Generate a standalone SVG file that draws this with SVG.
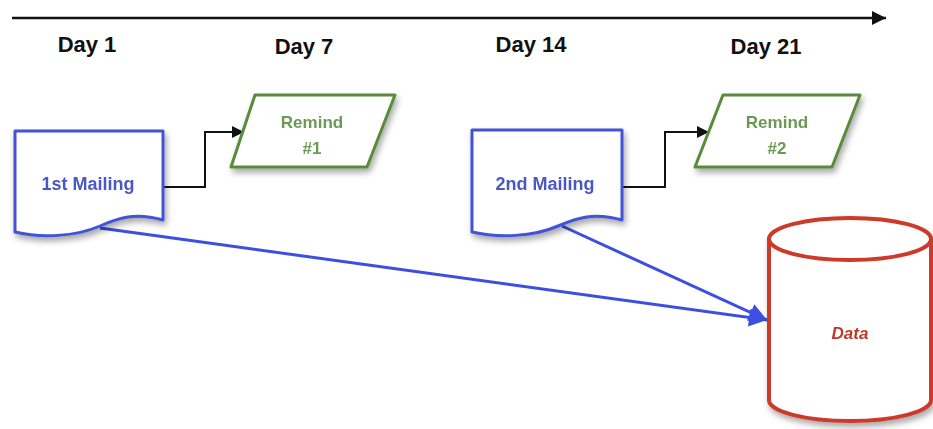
<svg xmlns="http://www.w3.org/2000/svg" width="933" height="429" viewBox="0 0 933 429">
<defs>
<style>
.day{font-family:"Liberation Sans",Arial,sans-serif;font-weight:bold;font-size:22px;fill:#111;text-anchor:middle}
.doc{fill:#fff;stroke:#4352d6;stroke-width:3;stroke-linejoin:round}
.doct{font-family:"Liberation Sans",Arial,sans-serif;font-weight:bold;font-size:18px;fill:#4a58c8;text-anchor:middle}
.rem{fill:#fff;stroke:#5a8a3a;stroke-width:3;stroke-linejoin:round}
.remt{font-family:"Liberation Sans",Arial,sans-serif;font-weight:bold;font-size:17px;fill:#6a9a52;text-anchor:middle}
.blk{fill:none;stroke:#111;stroke-width:2}
.blu{fill:none;stroke:#3c4fe0;stroke-width:3}
.cyl{fill:#fff;stroke:#cc3a2c;stroke-width:4}
.cylt{font-family:"Liberation Sans",Arial,sans-serif;font-weight:bold;font-style:italic;font-size:17px;fill:#c0392b;text-anchor:middle}
</style>
<marker id="ab" viewBox="0 0 10 10" refX="10" refY="5" markerWidth="16" markerHeight="14" markerUnits="userSpaceOnUse" orient="auto"><path d="M0,0 L10,5 L0,10 z" fill="#111"/></marker>
<marker id="ak" viewBox="0 0 10 10" refX="10" refY="5" markerWidth="14" markerHeight="12" markerUnits="userSpaceOnUse" orient="auto"><path d="M0,0 L10,5 L0,10 z" fill="#111"/></marker>
<marker id="au" viewBox="0 0 10 10" refX="10" refY="5" markerWidth="24" markerHeight="18" markerUnits="userSpaceOnUse" orient="auto"><path d="M0,0 L10,5 L0,10 z" fill="#3c4fe0"/></marker>
<filter id="sh" x="-20%" y="-20%" width="150%" height="150%"><feGaussianBlur in="SourceAlpha" stdDeviation="3"/><feOffset dx="2" dy="4"/><feComponentTransfer><feFuncA type="linear" slope="0.35"/></feComponentTransfer><feMerge><feMergeNode/><feMergeNode in="SourceGraphic"/></feMerge></filter>
</defs>
<rect width="933" height="429" fill="#fff"/>
<g id="timeline">
<line x1="12" y1="18" x2="886" y2="18" stroke="#111" stroke-width="2.5" marker-end="url(#ab)"/>
<text class="day" x="87" y="52">Day 1</text>
<text class="day" x="304" y="54">Day 7</text>
<text class="day" x="531" y="52">Day 14</text>
<text class="day" x="766" y="54">Day 21</text>
</g>
<g id="connectors">
<polyline class="blk" points="163,187 205,187 205,132 244,132" marker-end="url(#ak)"/>
<polyline class="blk" points="622,187 665,187 665,132 709,132" marker-end="url(#ak)"/>
<line class="blu" x1="100" y1="228" x2="767" y2="320" marker-end="url(#au)"/>
<line class="blu" x1="562" y1="226" x2="767" y2="320" marker-end="url(#au)"/>
</g>
<g id="mailing1" filter="url(#sh)">
<path class="doc" d="M15,131 H163 V220 C135,212 118,218 100,226 C75,237 40,238 15,232 Z"/>
<text class="doct" x="88" y="190">1st Mailing</text>
</g>
<g id="remind1" filter="url(#sh)">
<polygon class="rem" points="255,95 395,95 367,167 231,167"/>
<text class="remt" x="312" y="128">Remind</text>
<text class="remt" x="312" y="154">#1</text>
</g>
<g id="mailing2" filter="url(#sh)">
<path class="doc" d="M472,130 H622 V220 C594,212 577,218 558,226 C533,237 498,238 472,232 Z"/>
<text class="doct" x="545" y="190">2nd Mailing</text>
</g>
<g id="remind2" filter="url(#sh)">
<polygon class="rem" points="723,95 860,95 832,167 695,167"/>
<text class="remt" x="777" y="128">Remind</text>
<text class="remt" x="777" y="154">#2</text>
</g>
<g id="data" filter="url(#sh)">
<path class="cyl" d="M769,239 V400 A81,21 0 0 0 931,400 V239"/>
<ellipse class="cyl" cx="850" cy="239" rx="81" ry="21"/>
<text class="cylt" x="850" y="339">Data</text>
</g>
</svg>
